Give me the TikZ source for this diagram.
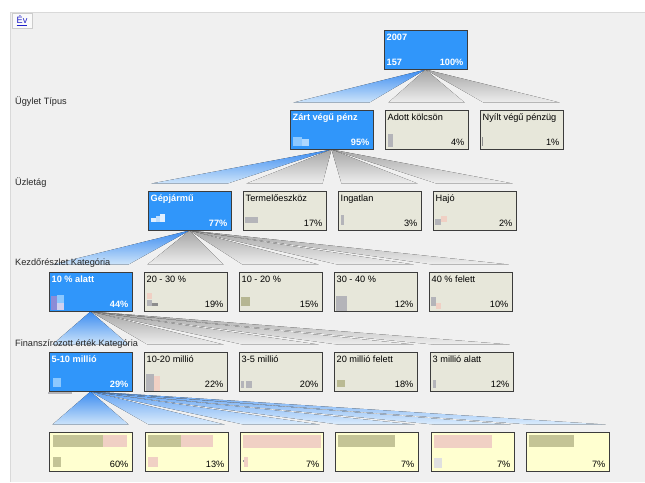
\documentclass[tikz,border=0pt]{standalone}
\usepackage{fontspec}
\setmainfont{Liberation Sans}
\usetikzlibrary{calc}
\definecolor{panelbg}{RGB}{240,240,240}
\definecolor{selblue}{RGB}{48,150,250}
\definecolor{beige}{RGB}{231,231,218}
\definecolor{leafy}{RGB}{255,255,208}
\definecolor{bordc}{RGB}{60,60,60}
\definecolor{fanblue}{RGB}{60,140,240}
\definecolor{fanbluel}{RGB}{205,228,250}
\definecolor{fangray}{RGB}{165,165,165}
\definecolor{fangrayl}{RGB}{238,238,238}
\definecolor{olive}{RGB}{196,196,150}
\definecolor{pinky}{RGB}{240,208,196}
\definecolor{thgray}{RGB}{180,180,185}
\definecolor{thblue}{RGB}{140,200,255}
\definecolor{thpurp}{RGB}{140,140,215}
\definecolor{linkblue}{RGB}{30,30,200}
\pgfdeclarelayer{panel}
\pgfdeclarelayer{fans}
\pgfsetlayers{panel,fans,main}
\tikzset{
  gbox/.style={rectangle, draw=bordc, line width=1pt, minimum width=83pt, minimum height=39pt, inner sep=0pt},
  selbox/.style={gbox, fill=selblue},
  othbox/.style={gbox, fill=beige},
  leafbox/.style={gbox, fill=leafy},
  lbl/.style={inner sep=0pt, font=\fontsize{9.2}{10}\selectfont, text=black},
  sellbl/.style={inner sep=0pt, font=\fontsize{9.2}{10}\selectfont\bfseries, text=white},
  lvl/.style={inner sep=0pt, anchor=west, font=\fontsize{9.2}{10}\selectfont, text=black!85},
  fsel/.style={top color=fanblue, bottom color=fanbluel},
  foth/.style={top color=fangray, bottom color=fangrayl},
  fleaf/.style={top color=fanblue!80, bottom color=fanbluel!70},
}
\newcommand{\bx}[7]{%
  \node[#4] (#1) at ({#2+41.5},{#3+19.5}) {};
  \node[#5, anchor=north west] (#1l) at ([shift={(3,4)}]#1.north west) {#6};
  \node[#5, anchor=south east] (#1p) at ([shift={(-4,-4)}]#1.south east) {#7};
}
\newcommand{\fan}[3]{\fill[#3] (#1.south) -- ([shift={(4,-7)}]#2.north west) -- ([shift={(-4,-7)}]#2.north east) -- cycle;}
\begin{document}
\begin{tikzpicture}[x=1pt,y=-1pt]
\useasboundingbox (0,0) rectangle (645,482);
\begin{pgfonlayer}{panel}
\fill[white] (0,0) rectangle (645,482);
\fill[panelbg] (10,12) rectangle (645,482);
\draw[black!15, line width=0.6pt] (10,482) -- (10,12) -- (645,12);
\end{pgfonlayer}

% Ev link
\node[rectangle, draw=black!20, fill=black!2, minimum width=20pt, minimum height=15pt, inner sep=0pt] (ev) at (22,20.5) {};
\node[inner sep=0pt, font=\fontsize{9.2}{10}\selectfont, text=linkblue] (evt) at (ev.center) {\underline{Év}};

% level labels
\node[lvl] (L1) at (15,102) {Ügylet Típus};
\node[lvl] (L2) at (15,183) {Üzletág};
\node[lvl] (L3) at (15,263) {Kezdőrészlet Kategória};
\node[lvl] (L4) at (15,344) {Finanszírozott érték Kategória};

% row 1
\bx{r}{384}{30}{selbox}{sellbl}{2007}{100\%}
\node[sellbl, anchor=south west] (rn) at ([shift={(3,-4)}]r.south west) {157};

% row 2
\bx{a1}{290}{110}{selbox}{sellbl}{Zárt végű pénz}{95\%}
\bx{a2}{385}{110}{othbox}{lbl}{Adott kölcsön}{4\%}
\bx{a3}{480}{110}{othbox}{lbl}{Nyílt végű pénzüg}{1\%}

% row 3
\bx{b1}{148}{191}{selbox}{sellbl}{Gépjármű}{77\%}
\bx{b2}{243}{191}{othbox}{lbl}{Termelőeszköz}{17\%}
\bx{b3}{338}{191}{othbox}{lbl}{Ingatlan}{3\%}
\bx{b4}{433}{191}{othbox}{lbl}{Hajó}{2\%}

% row 4
\bx{c1}{49}{272}{selbox}{sellbl}{10 \% alatt}{44\%}
\bx{c2}{144}{272}{othbox}{lbl}{20 - 30 \%}{19\%}
\bx{c3}{239}{272}{othbox}{lbl}{10 - 20 \%}{15\%}
\bx{c4}{334}{272}{othbox}{lbl}{30 - 40 \%}{12\%}
\bx{c5}{429}{272}{othbox}{lbl}{40 \% felett}{10\%}

% row 5
\bx{d1}{49}{352}{selbox}{sellbl}{5-10 millió}{29\%}
\bx{d2}{144}{352}{othbox}{lbl}{10-20 millió}{22\%}
\bx{d3}{239}{352}{othbox}{lbl}{3-5 millió}{20\%}
\bx{d4}{334}{352}{othbox}{lbl}{20 millió felett}{18\%}
\bx{d5}{430}{352}{othbox}{lbl}{3 millió alatt}{12\%}

% row 6 (leaves)
\node[leafbox] (e1) at (90.5,451.5) {};
\node[leafbox] (e2) at (186.5,451.5) {};
\node[leafbox] (e3) at (281.5,451.5) {};
\node[leafbox] (e4) at (376.5,451.5) {};
\node[leafbox] (e5) at (472.5,451.5) {};
\node[leafbox] (e6) at (567.5,451.5) {};
\foreach \n/\t in {e1/60\%,e2/13\%,e3/7\%,e4/7\%,e5/7\%,e6/7\%}{
  \node[lbl, anchor=south east] (\n p) at ([shift={(-4,-4)}]\n.south east) {\t};
}

% thumbnails
\fill[thblue] (293,137) rectangle (302,146);
\fill[thblue!70] (302,139) rectangle (309,146);
\fill[thgray] (388,134) rectangle (393,147);
\fill[black!45] (482,137) rectangle (483.2,146);
\fill[white!85!selblue] (151,218) rectangle (156,222);
\fill[white!70!selblue] (156,216) rectangle (160,222);
\fill[white!85!selblue] (160,214) rectangle (165,222);
\fill[thgray] (245,217) rectangle (258,223);
\fill[thgray] (341,215) rectangle (344,225);
\fill[thgray] (435,219) rectangle (441,225);
\fill[pinky] (441,216) rectangle (447,222);
\fill[thpurp] (51,296) rectangle (57,310);
\fill[thblue] (57,295) rectangle (64,303);
\fill[white!60!thpurp] (57,303) rectangle (64,310);
\fill[pinky] (147,293) rectangle (152,299);
\fill[thgray] (147,300) rectangle (152,306);
\fill[black!45] (152,303) rectangle (158,306);
\fill[olive!80!gray] (241,297) rectangle (250,306);
\fill[thgray] (336,296) rectangle (347,311);
\fill[thgray] (431,297) rectangle (436,306);
\fill[pinky] (436,303) rectangle (441,309);
\fill[thblue] (53,378) rectangle (61,387);
\fill[thgray] (48,391.5) rectangle (72,394);
\fill[thgray] (146,374) rectangle (154,391);
\fill[pinky] (154,376) rectangle (160,391);
\fill[thgray] (241,381) rectangle (244,388);
\fill[thgray] (246,381) rectangle (252,388);
\fill[olive!85!gray] (337,380) rectangle (345,387);
\fill[thgray] (433,380) rectangle (436,388);
% leaf bars
\fill[olive] (53,435) rectangle (103,447);
\fill[pinky] (103,435) rectangle (127,447);
\fill[olive] (53,457) rectangle (61,467);
\fill[olive] (148,435) rectangle (181,447);
\fill[pinky] (181,435) rectangle (213,447);
\fill[pinky] (148,457) rectangle (158,467);
\fill[pinky] (243,435) rectangle (321,448);
\fill[pinky] (244,457) rectangle (248,467);
\fill[black!40] (243,460) rectangle (244,462);
\fill[olive] (338,435) rectangle (395,447);
\fill[pinky] (434,435) rectangle (492,448);
\fill[black!12] (434,458) rectangle (442,468);
\fill[olive] (529,435) rectangle (574,447);

% fans
\begin{pgfonlayer}{fans}
\fan{r}{a1}{fsel}
\fan{r}{a2}{foth}
\fan{r}{a3}{foth}
\fan{a1}{b1}{fsel}
\fan{a1}{b2}{foth}
\fan{a1}{b3}{foth}
\fan{a1}{b4}{foth}
\fan{b1}{c1}{fsel}
\fan{b1}{c2}{foth}
\fan{b1}{c3}{foth}
\fan{b1}{c4}{foth}
\fan{b1}{c5}{foth}
\fan{c1}{d1}{fsel}
\fan{c1}{d2}{foth}
\fan{c1}{d3}{foth}
\fan{c1}{d4}{foth}
\fan{c1}{d5}{foth}
\fan{d1}{e1}{fsel}
\fan{d1}{e2}{fleaf}
\fan{d1}{e3}{fleaf}
\fan{d1}{e4}{fleaf}
\fan{d1}{e5}{fleaf}
\fan{d1}{e6}{fleaf}
\end{pgfonlayer}
\end{tikzpicture}
\end{document}
